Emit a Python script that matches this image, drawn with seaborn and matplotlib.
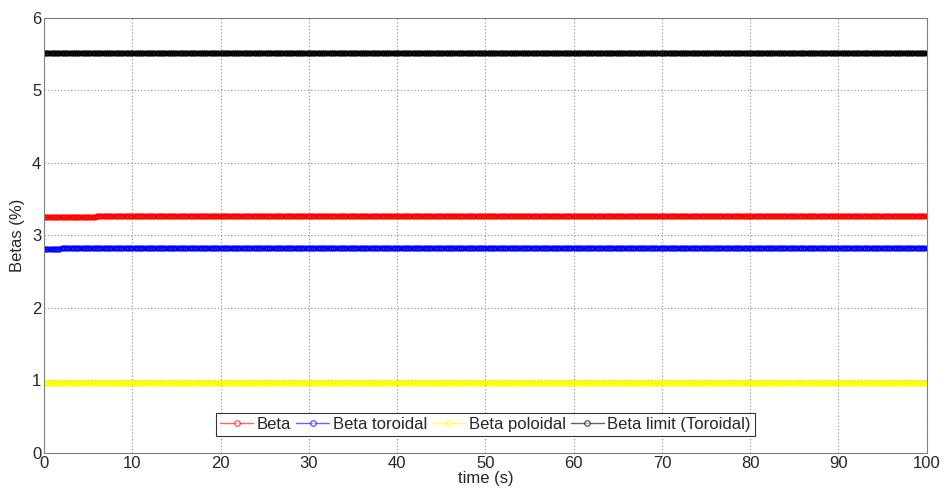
import numpy as np
import pandas as pd
import matplotlib
matplotlib.use("Agg")
import matplotlib.pyplot as plt
import seaborn as sns

# time grid (s) and the beta traces (%)
time = np.arange(0, 100.25, 0.25)
n = len(time)
beta = np.where(time < 6, 3.25, 3.27)
beta_tor = np.where(time < 2, 2.81, 2.83)
beta_pol = np.full(n, 0.97)
beta_lim = np.full(n, 5.52)

series = ["Beta", "Beta toroidal", "Beta poloidal", "Beta limit (Toroidal)"]
colors = ["#ff0000", "#0000ff", "#ffff00", "#000000"]
values = [beta, beta_tor, beta_pol, beta_lim]

sns.set_style("white")
plt.rcParams["font.family"] = ["Liberation Sans", "DejaVu Sans"]

fig = plt.figure(figsize=(9.43, 4.91), dpi=100)
ax = fig.add_axes([0.0467, 0.0774, 0.936, 0.886])

for name, col, vals in zip(series, colors, values):
    sns.lineplot(x=time, y=vals, color=col, marker="o", markersize=3.3,
                 markerfacecolor="none", markeredgecolor=col,
                 markeredgewidth=1.1, linewidth=1, ax=ax)

ax.set_xlim(0, 100)
ax.set_ylim(0, 6)
ax.set_xticks(range(0, 101, 10))
ax.set_yticks(range(0, 7))
ax.grid(True, linestyle=(0, (1, 2)), color="#909090", linewidth=0.8)
for s in ax.spines.values():
    s.set_color("#808080")
ax.tick_params(direction="in", length=4, color="#808080", labelsize=12, pad=2)
ax.set_xlabel("time (s)", fontsize=12, labelpad=0)
ax.set_ylabel("Betas (%)", fontsize=12, labelpad=5)

handles = [plt.Line2D([], [], color=c, marker="o", markersize=4, markerfacecolor="white",
                      linewidth=1, alpha=0.6) for c in colors]
leg = ax.legend(handles, series, loc="lower center", bbox_to_anchor=(0.5, 0.039),
                ncol=4, fontsize=12, frameon=True, fancybox=False, handlelength=2,
                handletextpad=0.2, columnspacing=0.3, borderpad=0.25, borderaxespad=0)
leg.get_frame().set_edgecolor("black")
leg.get_frame().set_linewidth(0.8)

fig.savefig("out.png", dpi=100)
